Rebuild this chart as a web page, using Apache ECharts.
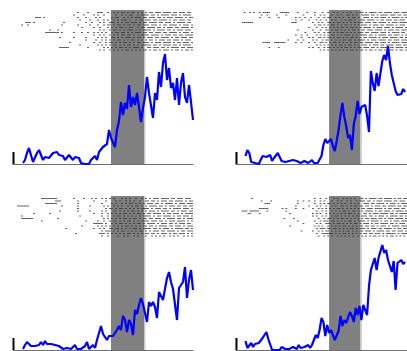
<!DOCTYPE html>
<html><head><meta charset="utf-8">
<script src="https://cdn.jsdelivr.net/npm/echarts/dist/echarts.min.js"></script>
<style>html,body{margin:0;padding:0;background:#fff}#c{width:407px;height:351px}</style>
</head><body><div id="c"></div>
<script>
// ---- data ----
const timeMax = 180;          // time axis length (bins)
const binStart = 10, binWidth = 2;
const stimOn = 98, stimOff = 131;
const scaleBar = 12;          // rate scale bar length
const rateMax = 154;
const trialAxisMax = 61.6;

const rate1 = [1,4,11,16,14,2,4,11,14,9, 4,7,9,6,7,11,11,12,9,7, 8,4,6,9,7,4,7,8,6,1, 0,0,0,0,4,6,8,4,12,14,
  17,15,20,34,26,27,17,34,43,62, 49,61,55,79,57,67,59,71,57,42, 56,67,87,71,72,46,71,64,92,77,
  101,110,84,96,76,81,64,86,59,81, 91,67,61,79,62,44];
const rate2 = [8,14,11,2,4,1,1,0,2,8, 10,7,7,9,3,6,5,11,9,3, 2,2,3,3,3,4,4,3,1,1, 1,3,1,1,2,4,1,3,1,1,
  8,19,25,21,20,25,18,13,23,34, 49,61,47,38,26,29,14,40,48,63, 50,57,56,59,48,32,93,81,73,91,
  78,79,103,109,104,118,101,89,88,73, 69,68,70,75,72];
const rate3 = [1,5,8,6,4,5,4,4,5,8, 5,9,6,7,6,5,5,6,4,2, 1,1,2,3,1,2,5,1,1,1, 2,4,8,1,1,5,2,10,10,24,
  16,17,10,14,12,14,16,20,24,20, 34,30,18,30,26,15,40,36,45,52, 46,45,28,48,44,48,43,32,58,58,
  50,50,72,78,68,61,60,30,62,64, 68,83,52,70,80,60];
const rate4 = [9,2,4,7,3,6,6,7,9,12, 10,18,11,9,0,0,0,2,0,3, 1,1,2,1,1,3,5,1,5,2, 4,3,3,5,2,5,3,15,12,20,
  32,28,14,25,17,20,18,10,10,19, 34,24,30,27,25,38,34,28,42,35, 44,30,45,40,35,64,80,80,92,80,
  92,90,105,97,100,90,88,78,89,60, 87,88,90,86,88];

// spike rasters: each trial = [pre-stimulus, stimulus, post-stimulus] strings, '#' = spike in 2-unit bin
const segStart = [0, 49, 66];
const raster1 = [
["..........|..........|..........|..#....#..|..###..#.", ".#.#.##.#.##.#.#.", "#.##.###.####.##.###.##."],
["..........|..........|..........|#....#....|#.#..#...", "..#..#.#.##..#.##", "##.##.#.####.###.#.####."],
["..........|.###.#....|..........|..#...#...|.#.#.....", "#.##..#.#.#.###.#", "#.###.##.#.###.####.#.##"],
["..........|..........|..........|...#....#.|..#..#.#.", ".#.#.###.#..#.##.", "###.##.####.#.##.###.##."],
["......###.|#.........|.....#....|......#..#|...#.#..#", "##.#.#.##.###.#.#", "#.####.##.###.#.####.##."],
["....#..#..|..........|....#.....|..#.....#.|..#..#.##", ".#.##.#.##.#.##.#", "##.###.#.##.####.#.###.#"],
["..........|..........|..........|....#.....|#..#...#.", "#.#.##.#.##..#.##", ".####.##.#.###.##.####.#"],
["..........|........#.|..#.......|..........|...#.#..#", ".##.#.#.###.#.#.#", "###.#.####.##.#.###.###."],
["..........|......####|###.#.....|#...#..#..|#.#.#.#..", "#.##.##.#.#.###.#", "#.##.###.##.####.#.###.#"],
["..........|..........|..........|..........|#..#.#..#", ".#.#.##.##.#.#.##", "##.####.#.###.##.##.####"],
["..........|..........|...#......|#.....#...|..#.#.#..", "##.#.#.###.#.##.#", ".###.##.####.#.##.###.##"],
["..........|..........|..........|......#...|.#..#.#.#", ".#.##.#.#.##.#.#.", "#.##.#.###.##.###.#.###."],
["..........|..........|........#.|..........|#..#..#.#", "#.#.#.##.#.#.##.#", "##.#.###.####.#.##.###.#"],
["..........|..........|..........|...#......|..#.#.#.#", ".##.#.#.##.#.#.##", "###.##.#.####.##.#.####."],
["..........|..........|...#####..|.......#..|.....#.#.", "#.#.##.#.#.###.#.", ".##.###.##.#.####.##.###"],
["..........|..........|..........|..........|...#.#..#", ".#.#.#.##.#.#.#.#", "#.#.##.#.###.#.##.#.##.#"]
];
const raster2 = [
["....#..#.#|..#.####..|...#####..|..#....#..|.#...#..#", "..#.#..#.#.#..#.#", "#.#.####.##.####.###.###"],
["..........|...#..#...|.#....#...|.....#....|.#..#.#..", ".#..#.#..##.#.#..", "####.##.#.####.###.##.##"],
["..........|..#....#..|..#.......|.#.#..#..#|...#..#.#", "#..#.#.#..#.##.#.", ".###.#.##.###.#.####.#.#"],
["..........|..........|..........|.#..#...#.|..#.#..#.", ".#.#..#.#.##.#..#", "##.####.#.##.###.##.###."],
["...######.|..........|.........#|##........|#..#.#..#", "#.#.##.#.#.#.#.##", "#.###.##.####.#.###.####"],
["..........|..........|..........|..........|.#.##.#.#", ".##.#.#.##.#.#.#.", "###.#.###.##.####.#.###."],
["..........|..........|..........|........#.|..#..#.#.", "#.#.#.##.#.##.#.#", ".####.#.###.###.#.####.#"],
["..........|..........|..........|..#.......|#...#..##", ".#.##.#.#.#.##.#.", "##.###.####.#.###.##.###"],
["..........|..........|..........|......#...|.#.#..#.#", "#.#.#.##.#.#.#.##", "#.##.####.###.#.####.##."],
["..........|..........|..........|.#..#..#..|..#.#.#.#", ".##.#.#.###.#.#.#", "###.##.#.####.##.###.#.#"],
["..........|..........|..........|....#...#.|#..##.#.#", "#.#.##.#.#.##.#.#", ".##.####.#.###.####.##.#"],
["..........|..........|.......#..|..#..#....|#.#..#.##", ".#.#.#.##.##.#.##", "##.#.###.####.##.###.###"],
["..........|....####..|######....|.#..#...#.|.#..##.#.", "#.##.#.#.#.#.##.#", "#.####.##.###.#.####.###"],
["..........|..........|..........|..........|..#.#.#.#", ".#.#.##.#.##.#.#.", "###.#.###.##.####.###.##"],
["..........|.......#..|..#.......|........#.|#..#..#.#", "#.#.#.#.##.#.#.##", ".###.##.#.####.##.####.#"],
["..........|..........|..........|..........|....#.#.#", ".#.#.#.#.#.##.#.#", "#.#.##.#.##.#.###.#.##.#"]
];
const raster3 = [
["..........|....######|##........|#....#...#|.#..#.#.#", ".#...#.#.#..#..#.", "#.#.###.####.##.###.###."],
["..........|..........|.###......|..#.......|#.....#..", "..#.#..#.#.#..#..", "##.##.#.###.##.####.#.##"],
["..........|......####|##........|..#.......|....#....", "#.#..#.#.##.#.#.#", ".###.##.#.####.#.###.###"],
["..######..|..........|....#.....|..#.....#.|.....#.#.", ".#.#.#..#.#.##.#.", "#.####.##.#.###.##.##.##"],
["..........|..........|..........|..#.......|......#.#", "#.#.##.#.#.#.#.##", "##.#.###.##.#.####.###.#"],
["..........|..........|...#......|..#.....#.|....#.#..", ".##.#.#.#.##.#.#.", "#.###.#.####.##.#.###.##"],
["..........|#.......#.|..........|..........|#...#..#.", "#.#.#.##.#.#.##.#", ".##.####.#.##.###.#.####"],
["....#.....|..........|..........|...#......|....#..#.", ".#.##.#.#.#.#.#.#", "###.#.##.####.#.##.###.#"],
["....######|..........|..#.......|..........|.....#.#.", "#.#.#.##.#.##.#.#", "#.##.###.#.####.##.#.###"],
["..........|....#.....|..........|......#...|..#..#..#", ".##.#.#.##.#.#.##", "##.###.##.#.###.####.#.#"],
["..........|..........|..........|..........|#####.#..", "#.#.##.#.#.#.##.#", ".####.#.###.##.#.###.##."],
["..........|..........|..........|....#.....|..#.#.#.#", ".#.#.#.##.#.#.#.#", "#.##.#.####.##.###.#.###"],
["..........|..........|......#...|..........|#..#.#..#", "#.##.#.#.#.##.#.#", "###.##.#.###.#.####.##.#"],
["..........|..........|..........|..........|....#.###", ".#.#.##.#.#.#.##.", "#.#.###.##.####.#.##.###"],
["..........|..........|..........|.#........|...###.#.", "#.#.#.#.##.#.#.#.", "##.##.#.###.#.##.###.#.#"],
["..........|..........|..........|..........|....#..#.", "...#..#.#..#.#...", "#..#.#.#.#..#.#.#..#.#.#"]
];
const raster4 = [
["........#.|..........|..........|..........|.#..#..#.", "..#.#..#.#.#.#..#", "#.#.####.##.####.#.##.##"],
["..........|...#....#.|..........|..#..#..#.|.#..#.#..", ".#..#.#..#.#..#.#", "##.##.#.###.####.##.###."],
["..........|.....###..|..........|..#.......|.#..#.#.#", "#.#.#.#.#..#.#.#.", ".###.##.####.#.###.#.###"],
["..........|..........|..........|.#......#.|..#.#..#.", ".#.#..##.#.#.##.#", "#.##.#.###.##.####.##.##"],
["..........|..#####...|....#.#...|.#...#....|#..#.#.#.", "#.#.##.#.#.#.#.#.", "##.###.####.#.##.###.##."],
["...###.###|##....#...|......#...|..........|..#..#.#.", ".#.#.#.##.#.##.#.", "#.####.#.##.###.#.####.#"],
["......##..|..#.......|........#.|..........|#.#.#..#.", "#.#.#.#.#.##.#.#.", ".##.#.###.####.##.#.####"],
["..........|..........|..........|..........|#.#..#.#.", ".#.##.#.#.#.#.##.", "###.##.#.###.#.####.##.#"],
["..........|..........|.....#....|#.........|...#..#.#", "#.#.#.##.#.#.#.#.", "#.##.###.##.#.###.####.#"],
["..........|..........|..........|..#.......|.#..#.###", ".##.#.#.#.##.#.##", "##.#.####.#.##.#.###.###"],
["..........|..........|..........|.....#....|..#.#..##", "#.#.##.#.#.#.##.#", ".###.#.##.####.##.#.###."],
["..........|..........|........#.|..........|.#.#.#..#", ".#.#.#.##.#.#.#.#", "#.##.##.#.###.#.####.###"],
["..........|..........|..........|..........|..#.###.#", "#.##.#.#.#.##.#.#", "##.#.###.##.####.#.##.##"],
["..........|..........|..........|....#.....|#..#.#.##", ".#.#.#.#.##.#.#.#", "#.###.#.####.##.##.###.#"],
["..........|..........|..........|..........|..#..####", "##.#.#.##.#.#.#.#", ".##.##.###.#.#####.#.###"],
["..........|..........|..........|..........|...#..#.#", ".#..#.#.#.#.#..#.", "#.#.#.##.#.#.#.##.#.#.#."]
];

// ---- build ----
function ratePoints(vals){ return vals.map((v,i)=>[binStart+binWidth*i, v]); }
function spikePoints(rows){
  const pts=[];
  rows.forEach((r,k)=>{
    r.forEach((seg,j)=>{
      seg.replace(/\|/g,'').split('').forEach((ch,c)=>{
        if(ch==='#') pts.push([binWidth*(segStart[j]+c)+1, k+1]);
      });
    });
  });
  return pts;
}
const panels = [
  {rate: rate1, raster: raster1, left: 13, top: 10},
  {rate: rate2, raster: raster2, left: 236, top: 10},
  {rate: rate3, raster: raster3, left: 13, top: 196},
  {rate: rate4, raster: raster4, left: 236, top: 196}
];
const grid=[], xAxis=[], yAxis=[], series=[];
panels.forEach((p,i)=>{
  grid.push({left:p.left, top:p.top, width:180, height:154});
  xAxis.push({gridIndex:i, type:'value', min:0, max:timeMax,
    axisLine:{show:true, onZero:false, lineStyle:{color:'#6e6e6e', width:1}},
    axisTick:{show:false}, axisLabel:{show:false}, splitLine:{show:false}});
  yAxis.push({gridIndex:i, type:'value', min:0, max:rateMax, show:false, splitLine:{show:false}});
  yAxis.push({gridIndex:i, type:'value', min:0, max:trialAxisMax, inverse:true, show:false, splitLine:{show:false}});
  series.push({type:'line', xAxisIndex:i, yAxisIndex:2*i, data:[], silent:true, z:1,
    markArea:{silent:true, itemStyle:{color:'#808080', opacity:1},
      data:[[{xAxis:stimOn},{xAxis:stimOff}],
            [{xAxis:stimOff, itemStyle:{color:'#c8c8c8'}},{xAxis:stimOff+1.4}]]}});
  series.push({type:'line', xAxisIndex:i, yAxisIndex:2*i, data:ratePoints(p.rate),
    showSymbol:false, silent:true, z:3, lineStyle:{color:'#0000ff', width:2.2}, animation:false});
  series.push({type:'scatter', xAxisIndex:i, yAxisIndex:2*i+1, data:spikePoints(p.raster),
    symbol:'rect', symbolSize:[1.8,1], itemStyle:{color:'#2a2a2a'}, silent:true, z:4, animation:false});
  series.push({type:'line', xAxisIndex:i, yAxisIndex:2*i, data:[[0.5,0],[0.5,scaleBar]],
    showSymbol:false, silent:true, z:5, lineStyle:{color:'#000', width:2}, animation:false});
});
const chart = echarts.init(document.getElementById('c'), null, {renderer:'canvas'});
chart.setOption({animation:false, backgroundColor:'#fff', grid, xAxis, yAxis, series});
</script></body></html>
